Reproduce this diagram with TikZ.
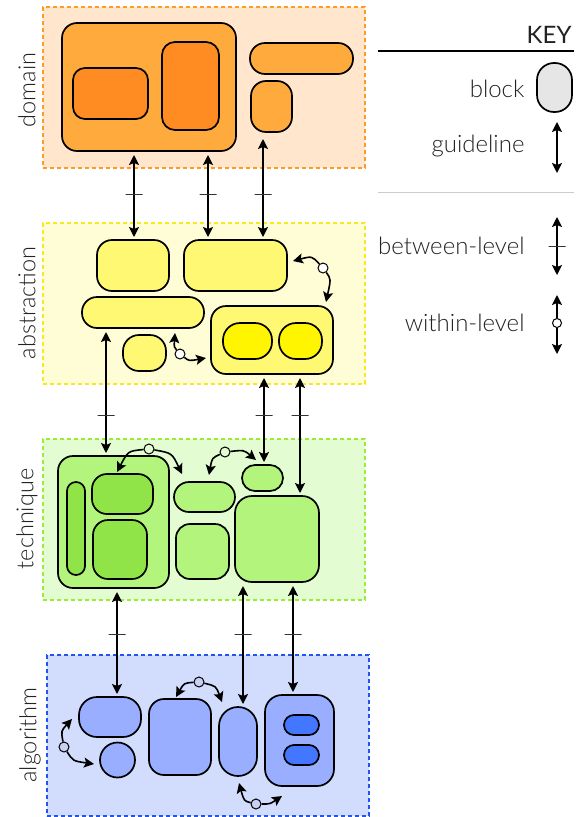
\documentclass[tikz,border=0pt]{standalone}
\usepackage{fontspec}
\setmainfont{Lato}
\newfontfamily\lightfont{Lato Light}
\usetikzlibrary{fit,arrows.meta,calc}

% level colours
\definecolor{dompanel}{HTML}{FFE6CC}
\definecolor{domline}{HTML}{FF9A22}
\definecolor{domblk}{HTML}{FFAA3C}
\definecolor{domin}{HTML}{FF8C22}
\definecolor{abspanel}{HTML}{FFFDD6}
\definecolor{absline}{HTML}{F8E81C}
\definecolor{absblk}{HTML}{FFF872}
\definecolor{absin}{HTML}{FFF500}
\definecolor{tecpanel}{HTML}{E3FCD2}
\definecolor{tecline}{HTML}{99EE33}
\definecolor{tecblk}{HTML}{B3F57C}
\definecolor{tecin}{HTML}{90E448}
\definecolor{algpanel}{HTML}{D2DCFC}
\definecolor{algline}{HTML}{2255EE}
\definecolor{algblk}{HTML}{99AEFF}
\definecolor{algin}{HTML}{4477FF}
\definecolor{algdot}{HTML}{C9D0F5}
\definecolor{keyblk}{HTML}{E6E6E6}
\definecolor{txt}{HTML}{222222}

\tikzset{
  panel/.style={draw=#1, line width=1.6pt, dash pattern=on 4pt off 3pt,
                inner sep=0pt, outer sep=0pt},
  blk/.style={draw=black, line width=1.7pt, inner sep=0pt, outer sep=0pt},
  bl/.style={line width=1.6pt, {Stealth[length=10pt,width=10pt,inset=2pt]}-{Stealth[length=10pt,width=10pt,inset=2pt]},
             shorten <=4pt, shorten >=3pt},
  wl/.style={line width=1.6pt, -{Stealth[length=10pt,width=10pt,inset=2pt]}},
  tk/.style={draw=black!80, line width=1pt, shape=rectangle, minimum width=17pt,
             minimum height=0pt, inner sep=0pt},
  wdot/.style={circle, draw=black, fill=#1, line width=1pt, minimum size=10pt, inner sep=0pt},
  lvl/.style={font=\lightfont\fontsize{23.5}{26}\selectfont, text=txt, rotate=90},
  keytxt/.style={font=\lightfont\fontsize{24}{28}\selectfont, text=txt, anchor=east},
}

\begin{document}
\begin{tikzpicture}[x=1pt,y=1pt]
\useasboundingbox (0,0) rectangle (584,-817);

% ---------------- domain ----------------
\node[panel=domline, fill=dompanel, fit={(43,-7)(365,-168)}] (Pdom) {};
\node[lvl] (Ldom) at (27,-90) {domain};
\node[blk, fill=domblk, rounded corners=15pt, fit={(62,-23)(236,-151)}] (D) {};
\node[blk, fill=domin, rounded corners=12pt, fit={(73,-68)(148,-119)}] (D1) {};
\node[blk, fill=domin, rounded corners=13pt, fit={(162,-42)(219,-130)}] (D2) {};
\node[blk, fill=domblk, rounded corners=15pt, fit={(250,-43)(353,-74)}] (D3) {};
\node[blk, fill=domblk, rounded corners=15pt, fit={(251,-81)(292,-132)}] (D4) {};

% ---------------- abstraction ----------------
\node[panel=absline, fill=abspanel, fit={(43,-223)(365,-384)}] (Pabs) {};
\node[lvl] (Labs) at (27,-303) {abstraction};
\node[blk, fill=absblk, rounded corners=15pt, fit={(97,-240)(169,-291)}] (A1) {};
\node[blk, fill=absblk, rounded corners=15pt, fit={(184,-240)(287,-291)}] (A2) {};
\node[blk, fill=absblk, rounded corners=15pt, fit={(82,-297)(204,-328)}] (A3) {};
\node[blk, fill=absblk, rounded corners=16pt, fit={(123,-335)(166,-371)}] (A4) {};
\node[blk, fill=absblk, rounded corners=15pt, fit={(211,-306)(333,-374)}] (A5) {};
\node[blk, fill=absin, rounded corners=17pt, fit={(223,-323)(272,-359)}] (A6) {};
\node[blk, fill=absin, rounded corners=17pt, fit={(279,-323)(322,-359)}] (A7) {};

% ---------------- technique ----------------
\node[panel=tecline, fill=tecpanel, fit={(43,-439)(365,-600)}] (Ptec) {};
\node[lvl] (Ltec) at (27,-519) {technique};
\node[blk, fill=tecblk, rounded corners=15pt, fit={(58,-456)(169,-588)}] (T1) {};
\node[blk, fill=tecin, rounded corners=9pt, fit={(67,-482)(85,-575)}] (T2) {};
\node[blk, fill=tecin, rounded corners=15pt, fit={(92,-474)(153,-514)}] (T3) {};
\node[blk, fill=tecin, rounded corners=15pt, fit={(93,-520)(147,-579)}] (T4) {};
\node[blk, fill=tecblk, rounded corners=15pt, fit={(174,-482)(235,-512)}] (T5) {};
\node[blk, fill=tecblk, rounded corners=14pt, fit={(176,-524)(229,-579)}] (T6) {};
\node[blk, fill=tecblk, rounded corners=13pt, fit={(242,-465)(283,-491)}] (T7) {};
\node[blk, fill=tecblk, rounded corners=17pt, fit={(235,-496)(319,-582)}] (T8) {};

% ---------------- algorithm ----------------
\node[panel=algline, fill=algpanel, fit={(47,-655)(369,-816)}] (Palg) {};
\node[lvl] (Lalg) at (30,-735) {algorithm};
\node[blk, fill=algblk, rounded corners=18pt, fit={(79,-697)(141,-737)}] (B1) {};
\node[blk, fill=algblk, circle, minimum size=35pt] (B2) at (117.5,-760) {};
\node[blk, fill=algblk, rounded corners=15pt, fit={(149,-699)(211,-775)}] (B3) {};
\node[blk, fill=algblk, rounded corners=19pt, fit={(219,-707)(257,-776)}] (B4) {};
\node[blk, fill=algblk, rounded corners=17pt, fit={(265,-695)(334,-786)}] (B5) {};
\node[blk, fill=algin, rounded corners=10pt, fit={(284,-715)(319,-735)}] (B6) {};
\node[blk, fill=algin, rounded corners=10pt, fit={(284,-745)(319,-765)}] (B7) {};

% ---------------- between-level guidelines ----------------
\coordinate (g1) at (134,0);
\coordinate (g2) at (208,0);
\coordinate (g3) at (263,0);
\coordinate (h1) at (106,0);
\coordinate (h2) at (264,0);
\coordinate (h3) at (300,0);
\coordinate (k1) at (117,0);
\coordinate (k2) at (243,0);
\coordinate (k3) at (293,0);

\draw[bl] (D.south -| g1) -- node[tk, pos=0.48876] {} (A1.north -| g1);
\draw[bl] (D.south -| g2) -- node[tk, pos=0.48876] {} (A2.north -| g2);
\draw[bl, shorten <=7pt] (D4.south -| g3) -- node[tk, pos=0.5787] {} (A2.north -| g3);

\draw[bl] (A3.south -| h1) -- node[tk, pos=0.68359] {} (T1.north -| h1);
\draw[bl] (A5.south -| h2) -- node[tk, pos=0.45604] {} (T7.north -| h2);
\draw[bl] (A5.south -| h3) -- node[tk, pos=0.34016] {} (T8.north -| h3);

\draw[bl] (T1.south -| k1) -- node[tk, pos=0.42661] {} (B1.north -| k1);
\draw[bl] (T8.south -| k2) -- node[tk, pos=0.42] {} (B4.north -| k2);
\draw[bl] (T8.south -| k3) -- node[tk, pos=0.4646] {} (B5.north -| k3);

% ---------------- within-level guidelines ----------------
% abstraction
\node[wdot=white] (w1) at (323,-268) {};
\coordinate (w1a) at (293,-261);
\coordinate (w1b) at (326,-302);
\draw[wl] (w1) .. controls (312,-256) .. (w1a);
\draw[wl] (w1) .. controls (331,-279) .. (w1b);

\node[wdot=white] (w2) at (180,-354) {};
\coordinate (w2a) at (175,-333);
\coordinate (w2b) at (206,-358);
\draw[wl] (w2) .. controls (174,-347) .. (w2a);
\draw[wl] (w2) .. controls (189,-361) .. (w2b);

% technique
\node[wdot=tecpanel] (w3) at (149,-449) {};
\coordinate (w3a) at (117,-472);
\coordinate (w3b) at (182,-474);
\draw[wl] (w3) .. controls (128,-451) .. (w3a);
\draw[wl] (w3) .. controls (172,-453) .. (w3b);

\node[wdot=tecpanel] (w4) at (225,-452) {};
\coordinate (w4a) at (209,-475);
\coordinate (w4b) at (256,-460);
\draw[wl] (w4) .. controls (212,-458) .. (w4a);
\draw[wl] (w4) .. controls (244,-450) .. (w4b);

% algorithm
\node[wdot=algdot] (w5) at (64,-747) {};
\coordinate (w5a) at (72,-719);
\coordinate (w5b) at (94,-764);
\draw[wl] (w5) .. controls (61,-731) .. (w5a);
\draw[wl] (w5) .. controls (73,-761) .. (w5b);

\node[wdot=algdot] (w6) at (199,-682) {};
\coordinate (w6a) at (176,-697);
\coordinate (w6b) at (222,-702);
\draw[wl] (w6) .. controls (184,-683) .. (w6a);
\draw[wl] (w6) .. controls (216,-686) .. (w6b);

\node[wdot=algdot] (w7) at (256,-804) {};
\coordinate (w7a) at (239,-783);
\coordinate (w7b) at (282,-796);
\draw[wl] (w7) .. controls (244,-801) .. (w7a);
\draw[wl] (w7) .. controls (270,-804) .. (w7b);

% ---------------- key ----------------
\node[font=\fontsize{24}{28}\selectfont, text=txt, anchor=east] (keyT) at (575,-35) {KEY};
\coordinate (r1a) at (378,-51);
\coordinate (r1b) at (574,-51);
\draw[line width=1.2pt, black] (r1a) -- (r1b);

\node[blk, fill=keyblk, rounded corners=17pt, fit={(537,-63)(572,-112)}] (kblk) {};
\node[keytxt] (kblkT) at (528,-89) {block};

\coordinate (kg1) at (557,-122);
\coordinate (kg2) at (557,-173);
\draw[bl, shorten <=0pt, shorten >=0pt] (kg1) -- (kg2);
\node[keytxt] (kgT) at (528,-146) {guideline};

\coordinate (r2a) at (378,-192);
\coordinate (r2b) at (574,-192);
\draw[line width=1pt, black!20] (r2a) -- (r2b);

\coordinate (kb1) at (557,-217);
\coordinate (kb2) at (557,-275);
\draw[bl, shorten <=0pt, shorten >=0pt] (kb1) -- node[tk, pos=0.50862] {} (kb2);
\node[keytxt] (kbT) at (528,-246) {between-level};

\node[wdot=white, minimum size=9pt] (kw) at (557,-323) {};
\coordinate (kw1) at (557,-295);
\coordinate (kw2) at (557,-354);
\draw[wl] (kw) -- (kw1);
\draw[wl] (kw) -- (kw2);
\node[keytxt] (kwT) at (528,-323) {within-level};
\end{tikzpicture}
\end{document}
